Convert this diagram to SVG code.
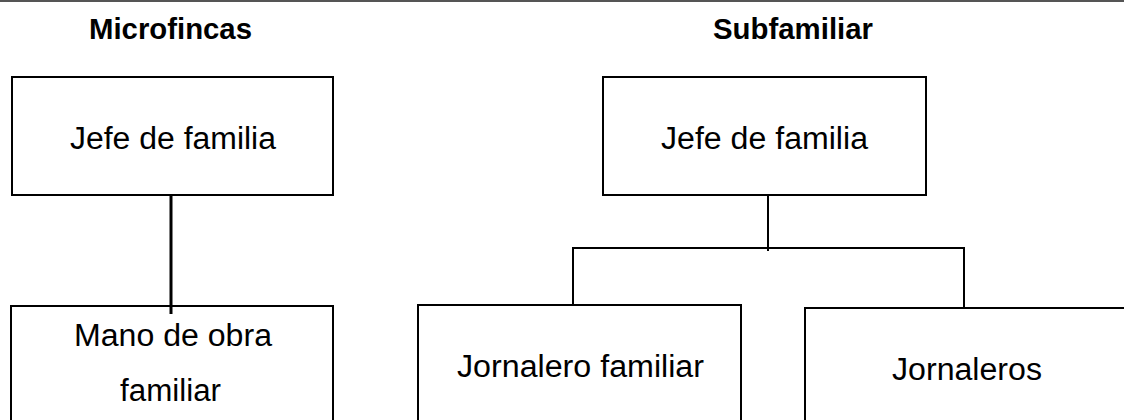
<svg xmlns="http://www.w3.org/2000/svg" width="1124" height="420" viewBox="0 0 1124 420">
<style>
.box{fill:none;stroke:#000;stroke-width:2}
.t{font-family:"Liberation Sans",Arial,sans-serif;font-size:31px;fill:#000}
.h{font-family:"Liberation Sans",Arial,sans-serif;font-size:29px;font-weight:bold;fill:#000}
.c{fill:none;stroke:#000;stroke-width:2}
.thick{stroke-width:3}
</style>
<rect width="1124" height="420" fill="#fff"/>
<line x1="0" y1="1" x2="1124" y2="1" stroke="#555" stroke-width="2"/>
<text class="h" x="89" y="39" textLength="163" lengthAdjust="spacingAndGlyphs">Microfincas</text>
<text class="h" x="713" y="39" textLength="160" lengthAdjust="spacingAndGlyphs">Subfamiliar</text>
<g id="connectors">
<line class="c thick" x1="171" y1="195" x2="171" y2="314"/>
<line class="c" x1="768" y1="195" x2="768" y2="251"/>
<polyline class="c" points="573,304 573,248 964,248 964,308"/>
</g>
<g id="n1">
<rect class="box" x="12" y="77" width="321" height="118"/>
<text class="t" x="70" y="149" textLength="206" lengthAdjust="spacingAndGlyphs">Jefe de familia</text>
</g>
<g id="n2">
<rect class="box" x="11" y="306" width="322" height="130"/>
<text class="t" x="74" y="346" textLength="198" lengthAdjust="spacingAndGlyphs">Mano de obra</text>
<text class="t" x="120" y="401" textLength="101" lengthAdjust="spacingAndGlyphs">familiar</text>
</g>
<g id="n3">
<rect class="box" x="603" y="77" width="323" height="118"/>
<text class="t" x="661" y="149" textLength="207" lengthAdjust="spacingAndGlyphs">Jefe de familia</text>
</g>
<g id="n4">
<rect class="box" x="418" y="305" width="323" height="130"/>
<text class="t" x="457" y="377" textLength="247" lengthAdjust="spacingAndGlyphs">Jornalero familiar</text>
</g>
<g id="n5">
<rect class="box" x="805" y="308" width="330" height="130"/>
<text class="t" x="892" y="380" textLength="150" lengthAdjust="spacingAndGlyphs">Jornaleros</text>
</g>
</svg>
